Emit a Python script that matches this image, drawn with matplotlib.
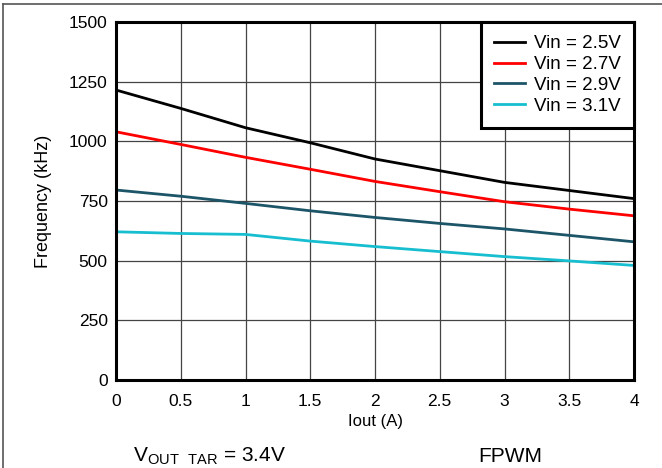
import matplotlib
matplotlib.use("Agg")
import matplotlib.pyplot as plt
from matplotlib.lines import Line2D

plt.rcParams['font.family'] = ['Liberation Sans', 'DejaVu Sans']
plt.rcParams['mathtext.fontset'] = 'custom'
plt.rcParams['mathtext.rm'] = 'Liberation Sans'

# Iout (A)
iout = [0, 0.5, 1, 1.5, 2, 2.5, 3, 3.5, 4]

# frequency (kHz) per input voltage
f_25 = [1215, 1138, 1057, 994, 926, 877, 828, 794, 760]
f_27 = [1040, 987, 933, 883, 832, 789, 747, 716, 688]
f_29 = [796, 770, 740, 709, 681, 656, 633, 606, 579]
f_31 = [621, 614, 610, 582, 559, 538, 517, 499, 480]

labels = ["Vin = 2.5V", "Vin = 2.7V", "Vin = 2.9V", "Vin = 3.1V"]
colors = ["#000000", "#ff0000", "#1d5568", "#17bed0"]

fig = plt.figure(figsize=(6.62, 4.68), dpi=100)
ax = fig.add_axes([116/662, 1 - 380/468, 518/662, 358/468])

for ys, lab, c in zip([f_25, f_27, f_29, f_31], labels, colors):
    ax.plot(iout, ys, color=c, lw=2.0, label=lab)

ax.set_xlim(0, 4)
ax.set_ylim(0, 1500)
ax.set_xticks([0, 0.5, 1, 1.5, 2, 2.5, 3, 3.5, 4])
ax.set_xticklabels(["0", "0.5", "1", "1.5", "2", "2.5", "3", "3.5", "4"])
ax.set_yticks([0, 250, 500, 750, 1000, 1250, 1500])
ax.tick_params(length=0, labelsize=12.5)
ax.tick_params(axis="x", pad=10)
ax.tick_params(axis="y", pad=6)
ax.grid(True, color="#444444", lw=0.9)
for s in ax.spines.values():
    s.set_linewidth(2.2)
    s.set_zorder(5)

ax.set_xlabel("Iout (A)", fontsize=12, labelpad=4)
ax.set_ylabel("Frequency (kHz)", fontsize=13, labelpad=12)

leg = ax.legend(loc="upper right", bbox_to_anchor=(1, 1), borderaxespad=0,
                fancybox=False, framealpha=1, edgecolor="black", fontsize=13.5,
                handlelength=1.65, handletextpad=0.5, labelspacing=0.2,
                borderpad=0.7)
leg.get_frame().set_linewidth(2.2)
leg.set_zorder(6)

fig.text(133/662, 1 - 456/468, r"V$_{\mathrm{OUT\ \ TAR}}$ = 3.4V", fontsize=15, va="center")
fig.text(478/662, 1 - 456/468, "FPWM", fontsize=15, va="center")

# outer frame (top and left edges)
fig.add_artist(Line2D([3/662, 3/662], [0, 1 - 4/468], transform=fig.transFigure, color="#555555", lw=1.2))
fig.add_artist(Line2D([3/662, 1], [1 - 4/468, 1 - 4/468], transform=fig.transFigure, color="#555555", lw=1.2))

fig.savefig("out.png", dpi=100)
